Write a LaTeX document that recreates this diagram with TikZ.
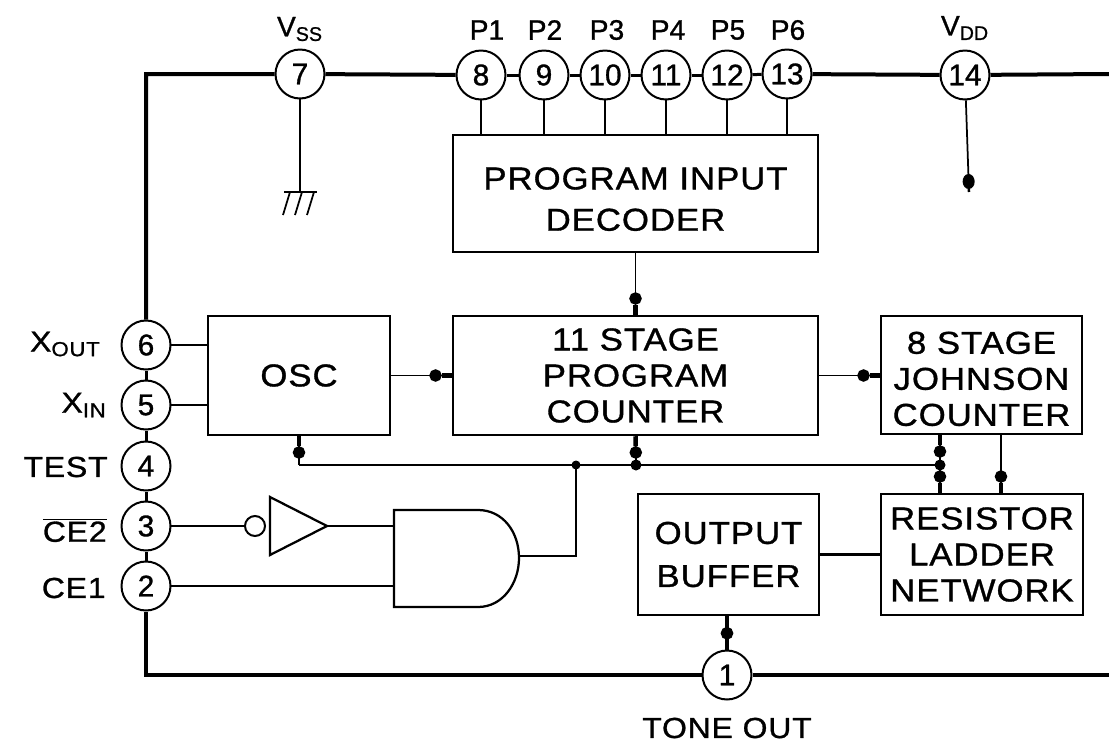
\documentclass[tikz,border=0pt]{standalone}
\usepackage{fontspec}
\usepackage{tikz}
\usetikzlibrary{arrows.meta}
\setmainfont{Liberation Sans}
\newfontfamily\blockfont[FakeStretch=1.1, LetterSpace=3, FakeBold=1]{Liberation Sans}
\newfontfamily\digitfont[FakeBold=1]{Liberation Sans}

\tikzset{
  block/.style={draw, line width=0.05cm, align=center, inner sep=0pt,
                font=\blockfont\fontsize{18}{20.5}\selectfont},
  pinnode/.style={draw, circle, fill=white, line width=0.04cm, minimum size=0.98cm,
                  inner sep=0pt, font=\digitfont\fontsize{17}{18}\selectfont},
  pinlabel/.style={inner sep=0pt, font=\digitfont\fontsize{16}{18}\selectfont},
  sidelabel/.style={inner sep=0pt, font=\blockfont\fontsize{16.5}{18}\selectfont},
  rail/.style={line width=0.08cm},
  signal/.style={line width=0.035cm},
  stub/.style={-{Circle[length=0.3cm, width=0.24cm] Rectangle[length=0.06cm, width=0.05cm]}},
}

\begin{document}
\begin{tikzpicture}[x=0.02cm, y=-0.02cm,
    >={Circle[length=0.25cm, width=0.25cm] Rectangle[length=0.2cm, width=0.09cm]}]

\useasboundingbox (0,0) rectangle (1109,754);

% blocks
\node[block, minimum width=7.3cm,  minimum height=2.34cm] (decoder) at (635.5,193.5) {\rule{0pt}{19pt}PROGRAM INPUT\\[3pt]DECODER};
\node[block, minimum width=3.64cm, minimum height=2.38cm] (osc)     at (299,375.5)   {OSC};
\node[block, minimum width=7.3cm,  minimum height=2.38cm] (counter) at (635.5,375.5) {11 STAGE\\PROGRAM\\COUNTER};
\node[block, minimum width=4.02cm, minimum height=2.36cm] (johnson) at (981.5,375)   {\rule{0pt}{17pt}8 STAGE\\JOHNSON\\COUNTER};
\node[block, minimum width=3.62cm, minimum height=2.42cm] (buffer)  at (728.5,554.5) {OUTPUT\\[4pt]BUFFER};
\node[block, minimum width=4.04cm, minimum height=2.42cm] (ladder)  at (982,554.5)   {RESISTOR\\LADDER\\NETWORK};

% pins
\node[pinnode] (p1)  at (727,675) {1};
\node[pinnode] (p2)  at (146,586) {2};
\node[pinnode] (p3)  at (146,526) {3};
\node[pinnode] (p4)  at (146,466) {4};
\node[pinnode] (p5)  at (146,405) {5};
\node[pinnode] (p6)  at (146,345) {6};
\node[pinnode] (p7)  at (300,74)  {7};
\node[pinnode] (p8)  at (481,75)  {8};
\node[pinnode] (p9)  at (544,75)  {9};
\node[pinnode] (p10) at (605,75)  {10};
\node[pinnode] (p11) at (666,75)  {11};
\node[pinnode] (p12) at (727,75)  {12};
\node[pinnode] (p13) at (787,74)  {13};
\node[pinnode] (p14) at (965,75)  {14};

% pin labels
\node[pinlabel] (vss)  at (300,29) {V\textsubscript{SS}};
\node[pinlabel] (lp1)  at (487,30) {P1};
\node[pinlabel] (lp2)  at (545,30) {P2};
\node[pinlabel] (lp3)  at (607,30) {P3};
\node[pinlabel] (lp4)  at (668,30) {P4};
\node[pinlabel] (lp5)  at (728,30) {P5};
\node[pinlabel] (lp6)  at (788,30) {P6};
\node[pinlabel] (vdd)  at (965,28) {V\textsubscript{DD}};
\node[sidelabel, anchor=east] (xout) at (101,344) {X\textsubscript{OUT}};
\node[sidelabel, anchor=east] (xin)  at (107,405) {X\textsubscript{IN}};
\node[sidelabel, anchor=east] (test) at (108,467) {TEST};
\node[sidelabel, anchor=east] (ce2)  at (107,530) {$\overline{\mbox{CE2}}$};
\node[sidelabel, anchor=east] (ce1)  at (106,588) {CE1};
\node[sidelabel] (toneout) at (727,728) {TONE OUT};

% supply rails
\coordinate (topleft)  at (146,74);
\coordinate (topright) at (1109,74);
\coordinate (botleft)  at (146,675);
\coordinate (botright) at (1109,675);
\draw[rail] (p6) -- (topleft) -- (p7) -- (p8);
\draw[rail] (p13) -- (p14) -- (topright);
\draw[rail] (p2) -- (botleft) -- (p1) -- (botright);

% chain of pins
\draw[line width=0.06cm] (p6) -- (p5);
\draw[line width=0.06cm] (p5) -- (p4);
\draw[line width=0.06cm] (p4) -- (p3);
\draw[line width=0.06cm] (p3) -- (p2);
\draw[line width=0.06cm] (p8) -- (p9);
\draw[line width=0.06cm] (p9) -- (p10);
\draw[line width=0.06cm] (p10) -- (p11);
\draw[line width=0.06cm] (p11) -- (p12);
\draw[line width=0.06cm] (p12) -- (p13);

% program inputs
\draw[signal] (p8)  -- (p8  |- decoder.north);
\draw[signal] (p9)  -- (p9  |- decoder.north);
\draw[signal] (p10) -- (p10 |- decoder.north);
\draw[signal] (p11) -- (p11 |- decoder.north);
\draw[signal] (p12) -- (p12 |- decoder.north);
\draw[signal] (p13) -- (p13 |- decoder.north);

% ground
\coordinate (gnd)  at (300,192);
\coordinate (gndl) at (284,192);
\coordinate (gndr) at (317,192);
\draw[signal] (p7) -- (gnd);
\draw[line width=0.05cm] (gndl) -- (gndr);
\draw[signal] (290,192) -- (283,215);
\draw[signal] (302,192) -- (295,215);
\draw[signal] (314,192) -- (307,215);

% VDD stub
\coordinate (vddend) at (969,192);
\draw[signal, stub] (p14) -- (vddend);

% OSC and counters
\draw[signal] (p6) -- (p6 -| osc.west);
\draw[signal] (p5) -- (p5 -| osc.west);
\draw[signal, ->] (osc.east) -- (counter.west);
\draw[signal, ->] (counter.east) -- (counter.east -| johnson.west);
\draw[signal, ->] (decoder.south) -- (counter.north);
\draw[line width=0.05cm] (buffer.east) -- (buffer.east -| ladder.west);
\draw[rail, ->] (buffer.south -| p1) -- (p1);

% clock bus
\coordinate (busl) at (299,465);
\coordinate (busm) at (636,465);
\coordinate (busr) at (940,465);
\coordinate (busg) at (576,465);
\draw[signal] (busr) -- (busl);
\draw[signal, ->] (busl) -- (osc.south);
\draw[signal, ->] (busm) -- (counter.south);
\draw[signal, ->] (busr) -- (busr |- johnson.south);
\draw[signal, ->] (busr) -- (busr |- ladder.north);
\fill (busg) circle (0.09cm);
\fill (busr) circle (0.11cm);
\fill (busm) circle (0.11cm);
\coordinate (jlink) at (1001,465);
\draw[signal, ->] (jlink |- johnson.south) -- (jlink |- ladder.north);

% enable logic
\coordinate (invt) at (270,497);
\coordinate (invb) at (270,555);
\coordinate (invo) at (327,526);
\node[draw, circle, line width=0.04cm, minimum size=0.4cm, inner sep=0pt] (bubble) at (255,526) {};
\draw[line width=0.045cm] (invt) -- (invo) -- (invb) -- cycle;
\draw[signal] (p3) -- (bubble);
\coordinate (andin) at (394,526);
\coordinate (andce) at (394,586);
\coordinate (andout) at (519,556);
\coordinate (andup) at (576,556);
\draw[line width=0.045cm] (478,510) -- (394,510) -- (394,607) -- (478,607)
  .. controls (503,607) and (519,583) .. (519,558)
  .. controls (519,532) and (503,510) .. (478,510);
\draw[signal] (invo) -- (andin);
\draw[line width=0.05cm] (p2) -- (andce);
\draw[signal] (andout) -- (andup) -- (busg);

\end{tikzpicture}
\end{document}
